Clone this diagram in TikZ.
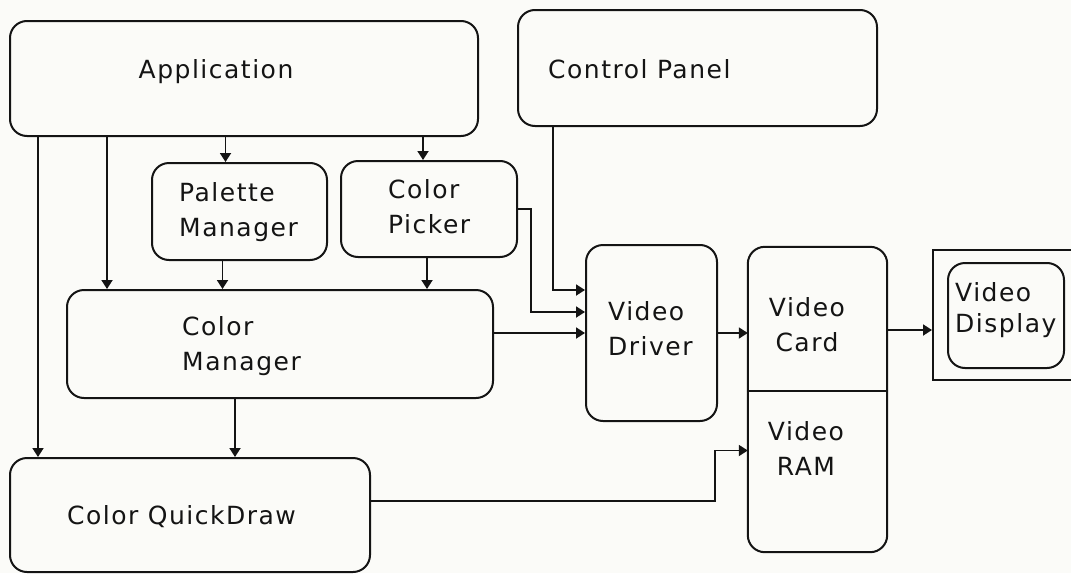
\documentclass[tikz,border=0pt]{standalone}
\usepackage{fontspec}
\usepackage{tikz}
\usetikzlibrary{arrows.meta, calc}
\newfontfamily\diagfont{DejaVu Sans}[LetterSpace=6]
\definecolor{inkBlack}{RGB}{20, 20, 20}
\definecolor{paperWhite}{RGB}{251, 251, 248}

\begin{document}
\begin{tikzpicture}[x=1pt, y=-1pt,
    box/.style={draw=inkBlack, line width=2pt, rounded corners=17pt, inner sep=0pt},
    lbl/.style={inner sep=0pt, text=inkBlack, align=left,
                font=\diagfont\fontsize{25}{35}\selectfont},
    arr/.style={draw=inkBlack, line width=1.8pt, -{Triangle[width=11pt, length=9pt]}}]

  % ── Fond (page 1071 x 573) ──
  \fill[paperWhite] (0,0) rectangle (1071,573);
  \useasboundingbox (0,0) rectangle (1071,573);

  % ── Blocs logiciels ──
  \node[box, minimum width=468pt, minimum height=115pt] (app)  at (244,78.5)  {};
  \node[box, minimum width=359pt, minimum height=116pt] (cp)   at (697.5,68)  {};
  \node[box, minimum width=175pt, minimum height=97pt]  (pal)  at (239.5,211.5) {};
  \node[box, minimum width=176pt, minimum height=96pt]  (pick) at (429,209)   {};
  \node[box, minimum width=426pt, minimum height=108pt] (cm)   at (280,344)   {};
  \node[box, minimum width=360pt, minimum height=114pt] (qd)   at (190,515)   {};
  \node[box, minimum width=131pt, minimum height=176pt] (drv)  at (651.5,333) {};

  % ── Carte vidéo (Card / RAM) ──
  \node[inner sep=0pt, minimum width=139pt, minimum height=144pt] (card) at (817.5,319)   {};
  \node[inner sep=0pt, minimum width=139pt, minimum height=161pt] (ram)  at (817.5,471.5) {};
  \draw[inkBlack, line width=2pt, rounded corners=17pt]
    (card.south west) -- (card.north west) -- (card.north east) -- (card.south east);
  \draw[inkBlack, line width=2pt, rounded corners=17pt]
    (ram.north west) -- (ram.south west) -- (ram.south east) -- (ram.north east);
  \draw[inkBlack, line width=2pt] (card.south west) -- (card.south east);

  % ── Écran ──
  \node[draw=inkBlack, line width=2pt, minimum width=142pt, minimum height=130pt] (disp) at (1004,315) {};
  \node[box, minimum width=116pt, minimum height=105pt] (scr) at (1006,315.5) {};

  % ── Textes ──
  \node[lbl] (app-t) at (216,72) {Application};
  \node[lbl, anchor=west] (cp-t)   at (548,69)    {Control Panel};
  \node[lbl, anchor=west] (pal-t)  at (179,212.5) {Palette\\Manager};
  \node[lbl, anchor=west] (pick-t) at (388,207)   {Color\\Picker};
  \node[lbl, anchor=west] (cm-t)   at (182,346)   {Color\\Manager};
  \node[lbl, anchor=west] (qd-t)   at (67,517)    {Color QuickDraw};
  \node[lbl, anchor=west] (drv-t)  at (608,328.5) {Video\\Driver};
  \node[lbl, align=center] (card-t) at (807,325)  {Video\\Card};
  \node[lbl, align=center] (ram-t)  at (806,448.5) {Video\\RAM};
  \node[lbl, anchor=west, font=\diagfont\fontsize{25}{31}\selectfont]
    (scr-t) at (955,310) {Video\\Display};

  % ── Points d'accroche ──
  \coordinate (pal-in)   at ([xshift=-14pt]pal.north);
  \coordinate (pick-in)  at ([xshift=-6pt]pick.north);
  \coordinate (pal-out)  at ([xshift=-17pt]pal.south);
  \coordinate (pick-out) at ([xshift=-2pt]pick.south);
  \coordinate (cm-in)    at ([xshift=41pt]cm.north west);
  \coordinate (qd-in)    at ([xshift=29pt]qd.north west);
  \coordinate (cm-out)   at ([xshift=-45pt]cm.south);
  \coordinate (cp-out)   at ([xshift=36pt]cp.south west);
  \coordinate (drv-in1)  at ([yshift=43pt]drv.west);
  \coordinate (drv-in2)  at ([yshift=21pt]drv.west);
  \coordinate (card-out) at ([yshift=-11pt]card.east);
  \coordinate (qd-out)   at ([yshift=14pt]qd.east);
  \coordinate (ram-in)   at ([yshift=21pt]ram.west);

  % ── Liaisons ──
  \draw[arr] (pal-in |- app.south) -- (pal-in);
  \draw[arr] (pick-in |- app.south) -- (pick-in);
  \draw[arr] (cm-in |- app.south) -- (cm-in);
  \draw[arr] (qd-in |- app.south) -- (qd-in);
  \draw[arr] (pal-out) -- (pal-out |- cm.north);
  \draw[arr] (pick-out) -- (pick-out |- cm.north);
  \draw[arr] (cm-out) -- (cm-out |- qd.north);
  \draw[arr] (cp-out) |- (drv-in1);
  \draw[arr] (pick.east) -| ([xshift=-54pt]drv-in2) -- (drv-in2);
  \draw[arr] (cm.east |- drv.west) -- (drv.west);
  \draw[arr] (drv.east) -- (drv.east -| card.west);
  \draw[arr] (card-out) -- (card-out -| disp.west);
  \draw[arr] (qd-out) -| ([xshift=-33pt]ram-in) -- (ram-in);

\end{tikzpicture}
\end{document}
